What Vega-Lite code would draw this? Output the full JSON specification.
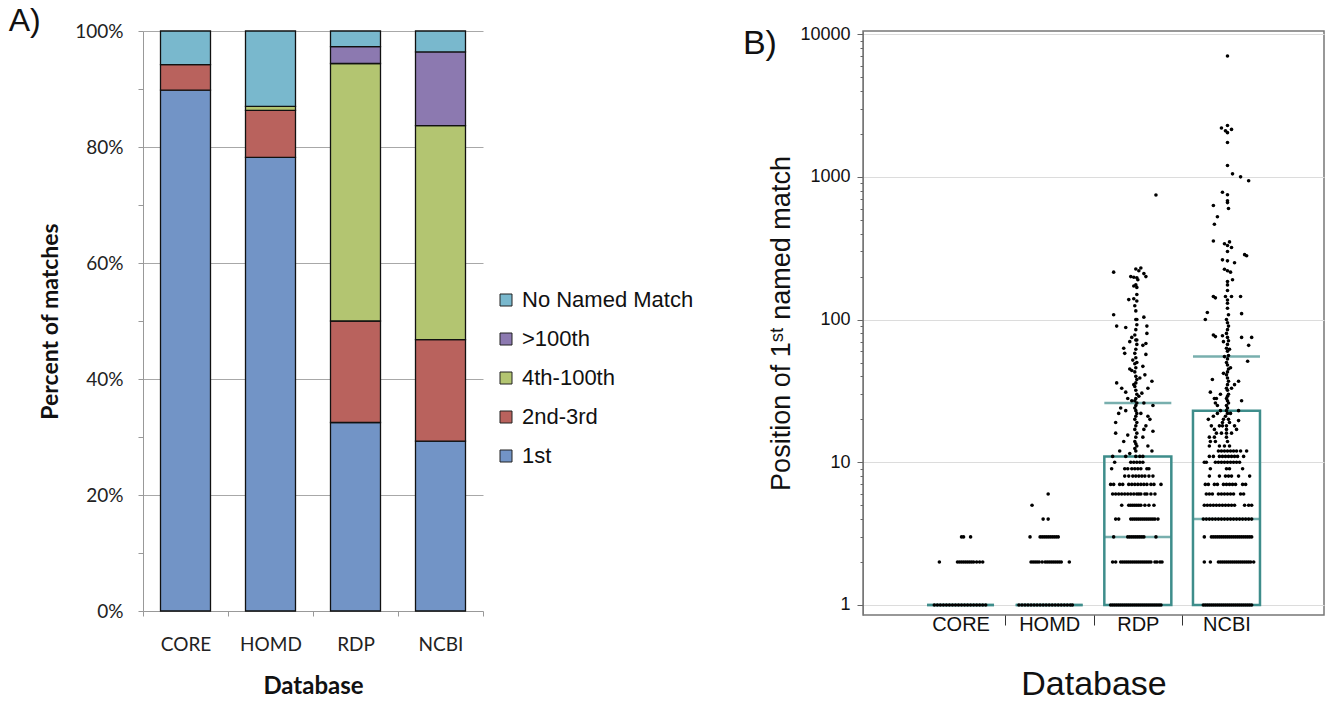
{
  "$schema": "https://vega.github.io/schema/vega-lite/v6.json",
  "background": "white",
  "padding": {"left": 8, "top": 5, "right": 2, "bottom": 2},
  "spacing": 258,
  "config": {"font": "Liberation Sans"},
  "datasets": {
    "bars": [
      {"db": "CORE", "cat": "1st", "rank": 1, "pct": 89.8},
      {"db": "CORE", "cat": "2nd-3rd", "rank": 2, "pct": 4.4},
      {"db": "CORE", "cat": "No Named Match", "rank": 5, "pct": 5.8},
      {"db": "HOMD", "cat": "1st", "rank": 1, "pct": 78.2},
      {"db": "HOMD", "cat": "2nd-3rd", "rank": 2, "pct": 8.1},
      {"db": "HOMD", "cat": "4th-100th", "rank": 3, "pct": 0.7},
      {"db": "HOMD", "cat": "No Named Match", "rank": 5, "pct": 13.0},
      {"db": "RDP", "cat": "1st", "rank": 1, "pct": 32.5},
      {"db": "RDP", "cat": "2nd-3rd", "rank": 2, "pct": 17.5},
      {"db": "RDP", "cat": "4th-100th", "rank": 3, "pct": 44.4},
      {"db": "RDP", "cat": ">100th", "rank": 4, "pct": 2.9},
      {"db": "RDP", "cat": "No Named Match", "rank": 5, "pct": 2.7},
      {"db": "NCBI", "cat": "1st", "rank": 1, "pct": 29.3},
      {"db": "NCBI", "cat": "2nd-3rd", "rank": 2, "pct": 17.5},
      {"db": "NCBI", "cat": "4th-100th", "rank": 3, "pct": 36.9},
      {"db": "NCBI", "cat": ">100th", "rank": 4, "pct": 12.7},
      {"db": "NCBI", "cat": "No Named Match", "rank": 5, "pct": 3.6}
    ],
    "boxes": [
      {"db": "CORE", "q1": 1, "q3": 1, "med": 1},
      {"db": "HOMD", "q1": 1, "q3": 1, "med": 1},
      {"db": "RDP", "q1": 1, "q3": 11, "med": 3, "mean": 26},
      {"db": "NCBI", "q1": 1, "q3": 23, "med": 4, "mean": 55}
    ],
    "pts": [
      {"db":"CORE","pos":1,"jit":-26},{"db":"CORE","pos":1,"jit":-23},{"db":"CORE","pos":1,"jit":-20},{"db":"CORE","pos":1,"jit":-17},{"db":"CORE","pos":1,"jit":-14},{"db":"CORE","pos":1,"jit":-11},{"db":"CORE","pos":1,"jit":-8},{"db":"CORE","pos":1,"jit":-5},{"db":"CORE","pos":1,"jit":-2},{"db":"CORE","pos":1,"jit":1},{"db":"CORE","pos":1,"jit":4},{"db":"CORE","pos":1,"jit":7},{"db":"CORE","pos":1,"jit":10},{"db":"CORE","pos":1,"jit":13},{"db":"CORE","pos":1,"jit":16},{"db":"CORE","pos":1,"jit":19},{"db":"CORE","pos":1,"jit":22},{"db":"CORE","pos":1,"jit":25},
      {"db":"CORE","pos":2,"jit":-21},{"db":"CORE","pos":2,"jit":-3},{"db":"CORE","pos":2,"jit":-1},{"db":"CORE","pos":2,"jit":1},{"db":"CORE","pos":2,"jit":3},{"db":"CORE","pos":2,"jit":5},{"db":"CORE","pos":2,"jit":7},{"db":"CORE","pos":2,"jit":9},{"db":"CORE","pos":2,"jit":11},{"db":"CORE","pos":2,"jit":13},{"db":"CORE","pos":2,"jit":16},{"db":"CORE","pos":2,"jit":19},{"db":"CORE","pos":2,"jit":22},
      {"db":"CORE","pos":3,"jit":1},{"db":"CORE","pos":3,"jit":3},{"db":"CORE","pos":3,"jit":10},
      {"db":"HOMD","pos":1,"jit":-30},{"db":"HOMD","pos":1,"jit":-27},{"db":"HOMD","pos":1,"jit":-24},{"db":"HOMD","pos":1,"jit":-21},{"db":"HOMD","pos":1,"jit":-18},{"db":"HOMD","pos":1,"jit":-15},{"db":"HOMD","pos":1,"jit":-12},{"db":"HOMD","pos":1,"jit":-9},{"db":"HOMD","pos":1,"jit":-6},{"db":"HOMD","pos":1,"jit":-3},{"db":"HOMD","pos":1,"jit":0},{"db":"HOMD","pos":1,"jit":3},{"db":"HOMD","pos":1,"jit":6},{"db":"HOMD","pos":1,"jit":9},{"db":"HOMD","pos":1,"jit":12},{"db":"HOMD","pos":1,"jit":15},{"db":"HOMD","pos":1,"jit":18},{"db":"HOMD","pos":1,"jit":21},{"db":"HOMD","pos":1,"jit":23},
      {"db":"HOMD","pos":2,"jit":-18},{"db":"HOMD","pos":2,"jit":-16},{"db":"HOMD","pos":2,"jit":-14},{"db":"HOMD","pos":2,"jit":-12},{"db":"HOMD","pos":2,"jit":-10},{"db":"HOMD","pos":2,"jit":-7},{"db":"HOMD","pos":2,"jit":-4},{"db":"HOMD","pos":2,"jit":-2},{"db":"HOMD","pos":2,"jit":0},{"db":"HOMD","pos":2,"jit":2},{"db":"HOMD","pos":2,"jit":4},{"db":"HOMD","pos":2,"jit":6},{"db":"HOMD","pos":2,"jit":8},{"db":"HOMD","pos":2,"jit":10},{"db":"HOMD","pos":2,"jit":12},{"db":"HOMD","pos":2,"jit":20},
      {"db":"HOMD","pos":3,"jit":-19},{"db":"HOMD","pos":3,"jit":-9},{"db":"HOMD","pos":3,"jit":-7},{"db":"HOMD","pos":3,"jit":-5},{"db":"HOMD","pos":3,"jit":-3},{"db":"HOMD","pos":3,"jit":-1},{"db":"HOMD","pos":3,"jit":1},{"db":"HOMD","pos":3,"jit":3},{"db":"HOMD","pos":3,"jit":5},{"db":"HOMD","pos":3,"jit":7},{"db":"HOMD","pos":3,"jit":9},
      {"db":"HOMD","pos":4,"jit":-6},{"db":"HOMD","pos":4,"jit":-1},{"db":"HOMD","pos":5,"jit":-17},{"db":"HOMD","pos":6,"jit":-1},
      {"db":"RDP","pos":1,"jit":-27},{"db":"RDP","pos":1,"jit":-25},{"db":"RDP","pos":1,"jit":-23},{"db":"RDP","pos":1,"jit":-21},{"db":"RDP","pos":1,"jit":-19},{"db":"RDP","pos":1,"jit":-17},{"db":"RDP","pos":1,"jit":-15},{"db":"RDP","pos":1,"jit":-13},{"db":"RDP","pos":1,"jit":-11},{"db":"RDP","pos":1,"jit":-9},{"db":"RDP","pos":1,"jit":-7},{"db":"RDP","pos":1,"jit":-5},{"db":"RDP","pos":1,"jit":-3},{"db":"RDP","pos":1,"jit":-1},{"db":"RDP","pos":1,"jit":1},{"db":"RDP","pos":1,"jit":3},{"db":"RDP","pos":1,"jit":5},{"db":"RDP","pos":1,"jit":7},{"db":"RDP","pos":1,"jit":9},{"db":"RDP","pos":1,"jit":11},{"db":"RDP","pos":1,"jit":13},{"db":"RDP","pos":1,"jit":15},{"db":"RDP","pos":1,"jit":17},{"db":"RDP","pos":1,"jit":19},{"db":"RDP","pos":1,"jit":21},{"db":"RDP","pos":1,"jit":23},
      {"db":"RDP","pos":2,"jit":-25},{"db":"RDP","pos":2,"jit":-22},{"db":"RDP","pos":2,"jit":-17},{"db":"RDP","pos":2,"jit":-15},{"db":"RDP","pos":2,"jit":-13},{"db":"RDP","pos":2,"jit":-11},{"db":"RDP","pos":2,"jit":-9},{"db":"RDP","pos":2,"jit":-7},{"db":"RDP","pos":2,"jit":-5},{"db":"RDP","pos":2,"jit":-3},{"db":"RDP","pos":2,"jit":-1},{"db":"RDP","pos":2,"jit":1},{"db":"RDP","pos":2,"jit":3},{"db":"RDP","pos":2,"jit":5},{"db":"RDP","pos":2,"jit":7},{"db":"RDP","pos":2,"jit":9},{"db":"RDP","pos":2,"jit":11},{"db":"RDP","pos":2,"jit":13},{"db":"RDP","pos":2,"jit":17},{"db":"RDP","pos":2,"jit":19},{"db":"RDP","pos":2,"jit":22},{"db":"RDP","pos":2,"jit":24},
      {"db":"RDP","pos":3,"jit":-24},{"db":"RDP","pos":3,"jit":-10},{"db":"RDP","pos":3,"jit":-8},{"db":"RDP","pos":3,"jit":-6},{"db":"RDP","pos":3,"jit":-4},{"db":"RDP","pos":3,"jit":-2},{"db":"RDP","pos":3,"jit":0},{"db":"RDP","pos":3,"jit":2},{"db":"RDP","pos":3,"jit":4},{"db":"RDP","pos":3,"jit":6},{"db":"RDP","pos":3,"jit":18},
      {"db":"RDP","pos":4,"jit":-22},{"db":"RDP","pos":4,"jit":-19},{"db":"RDP","pos":4,"jit":-7},{"db":"RDP","pos":4,"jit":-5},{"db":"RDP","pos":4,"jit":-3},{"db":"RDP","pos":4,"jit":-1},{"db":"RDP","pos":4,"jit":1},{"db":"RDP","pos":4,"jit":3},{"db":"RDP","pos":4,"jit":5},{"db":"RDP","pos":4,"jit":7},{"db":"RDP","pos":4,"jit":9},{"db":"RDP","pos":4,"jit":11},{"db":"RDP","pos":4,"jit":13},{"db":"RDP","pos":4,"jit":15},{"db":"RDP","pos":4,"jit":17},{"db":"RDP","pos":4,"jit":20},
      {"db":"RDP","pos":5,"jit":-16},{"db":"RDP","pos":5,"jit":-9},{"db":"RDP","pos":5,"jit":-7},{"db":"RDP","pos":5,"jit":-5},{"db":"RDP","pos":5,"jit":-3},{"db":"RDP","pos":5,"jit":-1},{"db":"RDP","pos":5,"jit":1},{"db":"RDP","pos":5,"jit":3},{"db":"RDP","pos":5,"jit":7},{"db":"RDP","pos":5,"jit":11},{"db":"RDP","pos":5,"jit":16},
      {"db":"RDP","pos":6,"jit":-25},{"db":"RDP","pos":6,"jit":-22},{"db":"RDP","pos":6,"jit":-19},{"db":"RDP","pos":6,"jit":-16},{"db":"RDP","pos":6,"jit":-13},{"db":"RDP","pos":6,"jit":-10},{"db":"RDP","pos":6,"jit":-7},{"db":"RDP","pos":6,"jit":-4},{"db":"RDP","pos":6,"jit":-1},{"db":"RDP","pos":6,"jit":1},{"db":"RDP","pos":6,"jit":3},{"db":"RDP","pos":6,"jit":7},{"db":"RDP","pos":6,"jit":9},{"db":"RDP","pos":6,"jit":13},{"db":"RDP","pos":6,"jit":17},
      {"db":"RDP","pos":7,"jit":-27},{"db":"RDP","pos":7,"jit":-24},{"db":"RDP","pos":7,"jit":-18},{"db":"RDP","pos":7,"jit":-15},{"db":"RDP","pos":7,"jit":-9},{"db":"RDP","pos":7,"jit":-6},{"db":"RDP","pos":7,"jit":-3},{"db":"RDP","pos":7,"jit":0},{"db":"RDP","pos":7,"jit":3},{"db":"RDP","pos":7,"jit":6},{"db":"RDP","pos":7,"jit":9},{"db":"RDP","pos":7,"jit":13},{"db":"RDP","pos":7,"jit":16},{"db":"RDP","pos":7,"jit":23},
      {"db":"RDP","pos":8,"jit":-13},{"db":"RDP","pos":8,"jit":-9},{"db":"RDP","pos":8,"jit":-5},{"db":"RDP","pos":8,"jit":-2},{"db":"RDP","pos":8,"jit":1},{"db":"RDP","pos":8,"jit":4},{"db":"RDP","pos":8,"jit":7},{"db":"RDP","pos":8,"jit":11},{"db":"RDP","pos":8,"jit":15},
      {"db":"RDP","pos":9,"jit":-26},{"db":"RDP","pos":9,"jit":-13},{"db":"RDP","pos":9,"jit":-10},{"db":"RDP","pos":9,"jit":-6},{"db":"RDP","pos":9,"jit":-3},{"db":"RDP","pos":9,"jit":0},{"db":"RDP","pos":9,"jit":3},{"db":"RDP","pos":9,"jit":9},{"db":"RDP","pos":9,"jit":11},
      {"db":"RDP","pos":10,"jit":-23},{"db":"RDP","pos":10,"jit":-7},{"db":"RDP","pos":10,"jit":-4},{"db":"RDP","pos":10,"jit":-1},{"db":"RDP","pos":10,"jit":2},{"db":"RDP","pos":10,"jit":5},
      {"db":"RDP","pos":11,"jit":-25},{"db":"RDP","pos":11,"jit":-12},{"db":"RDP","pos":11,"jit":-2},{"db":"RDP","pos":11,"jit":2},{"db":"RDP","pos":11,"jit":5},
      {"db":"RDP","pos":12,"jit":-2},{"db":"RDP","pos":12.5,"jit":-3},{"db":"RDP","pos":13,"jit":-1},{"db":"RDP","pos":13.5,"jit":-2},{"db":"RDP","pos":14,"jit":-3},{"db":"RDP","pos":15,"jit":-2},{"db":"RDP","pos":16,"jit":-1},{"db":"RDP","pos":17,"jit":-3},{"db":"RDP","pos":18,"jit":-2},{"db":"RDP","pos":19,"jit":-1},{"db":"RDP","pos":20,"jit":-3},{"db":"RDP","pos":21,"jit":-2},{"db":"RDP","pos":22,"jit":-1},{"db":"RDP","pos":23,"jit":-2},{"db":"RDP","pos":24,"jit":-3},{"db":"RDP","pos":25,"jit":-2},{"db":"RDP","pos":26,"jit":-1},{"db":"RDP","pos":27,"jit":-3},{"db":"RDP","pos":28,"jit":-2},{"db":"RDP","pos":30,"jit":-1},{"db":"RDP","pos":32,"jit":-2},{"db":"RDP","pos":34,"jit":-3},{"db":"RDP","pos":36,"jit":-2},{"db":"RDP","pos":38,"jit":-1},{"db":"RDP","pos":40,"jit":-2},{"db":"RDP","pos":43,"jit":-3},{"db":"RDP","pos":46,"jit":-2},{"db":"RDP","pos":50,"jit":-1},{"db":"RDP","pos":54,"jit":-2},{"db":"RDP","pos":58,"jit":-3},{"db":"RDP","pos":62,"jit":-2},{"db":"RDP","pos":67,"jit":-1},{"db":"RDP","pos":72,"jit":-2},{"db":"RDP","pos":78,"jit":-3},{"db":"RDP","pos":85,"jit":-2},{"db":"RDP","pos":92,"jit":-1},{"db":"RDP","pos":100,"jit":-2},{"db":"RDP","pos":115,"jit":-2},{"db":"RDP","pos":125,"jit":-3},{"db":"RDP","pos":150,"jit":-1},{"db":"RDP","pos":175,"jit":-2},
      {"db":"RDP","pos":63,"jit":-14},{"db":"RDP","pos":58,"jit":-13},{"db":"RDP","pos":36,"jit":-21},{"db":"RDP","pos":47,"jit":5},{"db":"RDP","pos":41,"jit":7},{"db":"RDP","pos":31,"jit":-12},{"db":"RDP","pos":22,"jit":-19},{"db":"RDP","pos":19,"jit":-22},{"db":"RDP","pos":16,"jit":-22},{"db":"RDP","pos":18,"jit":8},{"db":"RDP","pos":17,"jit":6},{"db":"RDP","pos":15,"jit":5},{"db":"RDP","pos":15.5,"jit":-10},{"db":"RDP","pos":30.5,"jit":4},{"db":"RDP","pos":26,"jit":6},{"db":"RDP","pos":22,"jit":3},{"db":"RDP","pos":28,"jit":-10},{"db":"RDP","pos":24,"jit":-17},{"db":"RDP","pos":20,"jit":12},{"db":"RDP","pos":33,"jit":10},{"db":"RDP","pos":25,"jit":15},{"db":"RDP","pos":27,"jit":-6},{"db":"RDP","pos":45,"jit":-8},{"db":"RDP","pos":52,"jit":-5},{"db":"RDP","pos":70,"jit":-8},{"db":"RDP","pos":88,"jit":-12},{"db":"RDP","pos":80,"jit":9},{"db":"RDP","pos":75,"jit":-6},{"db":"RDP","pos":66,"jit":5},{"db":"RDP","pos":57,"jit":8},{"db":"RDP","pos":49,"jit":-3},{"db":"RDP","pos":44,"jit":-6},{"db":"RDP","pos":39,"jit":2},{"db":"RDP","pos":35,"jit":-4},{"db":"RDP","pos":29,"jit":1},{"db":"RDP","pos":90,"jit":-21},{"db":"RDP","pos":90,"jit":9},{"db":"RDP","pos":108,"jit":-24},{"db":"RDP","pos":104,"jit":6},{"db":"RDP","pos":100,"jit":-1},{"db":"RDP","pos":72,"jit":-1},{"db":"RDP","pos":68,"jit":8},{"db":"RDP","pos":138,"jit":-9},{"db":"RDP","pos":140,"jit":-4},{"db":"RDP","pos":135,"jit":-1},{"db":"RDP","pos":172,"jit":-4},{"db":"RDP","pos":168,"jit":-1},{"db":"RDP","pos":215,"jit":-24},{"db":"RDP","pos":200,"jit":-7},{"db":"RDP","pos":198,"jit":-4},{"db":"RDP","pos":196,"jit":-1},{"db":"RDP","pos":200,"jit":8},{"db":"RDP","pos":226,"jit":-2},{"db":"RDP","pos":220,"jit":1},{"db":"RDP","pos":210,"jit":6},{"db":"RDP","pos":230,"jit":3},{"db":"RDP","pos":190,"jit":0},{"db":"RDP","pos":747,"jit":18},{"db":"RDP","pos":13,"jit":10},{"db":"RDP","pos":14,"jit":-14},{"db":"RDP","pos":12,"jit":-18},{"db":"RDP","pos":12,"jit":14},{"db":"RDP","pos":21,"jit":10},{"db":"RDP","pos":23,"jit":-12},{"db":"RDP","pos":37,"jit":14},{"db":"RDP","pos":33,"jit":-16},{"db":"RDP","pos":11.5,"jit":-8},{"db":"RDP","pos":16.5,"jit":15},
      {"db":"NCBI","pos":1,"jit":-23},{"db":"NCBI","pos":1,"jit":-21},{"db":"NCBI","pos":1,"jit":-19},{"db":"NCBI","pos":1,"jit":-17},{"db":"NCBI","pos":1,"jit":-15},{"db":"NCBI","pos":1,"jit":-13},{"db":"NCBI","pos":1,"jit":-11},{"db":"NCBI","pos":1,"jit":-9},{"db":"NCBI","pos":1,"jit":-7},{"db":"NCBI","pos":1,"jit":-5},{"db":"NCBI","pos":1,"jit":-3},{"db":"NCBI","pos":1,"jit":-1},{"db":"NCBI","pos":1,"jit":1},{"db":"NCBI","pos":1,"jit":3},{"db":"NCBI","pos":1,"jit":5},{"db":"NCBI","pos":1,"jit":7},{"db":"NCBI","pos":1,"jit":9},{"db":"NCBI","pos":1,"jit":11},{"db":"NCBI","pos":1,"jit":13},{"db":"NCBI","pos":1,"jit":15},{"db":"NCBI","pos":1,"jit":17},{"db":"NCBI","pos":1,"jit":19},{"db":"NCBI","pos":1,"jit":21},{"db":"NCBI","pos":1,"jit":23},{"db":"NCBI","pos":1,"jit":25},
      {"db":"NCBI","pos":2,"jit":-22},{"db":"NCBI","pos":2,"jit":-16},{"db":"NCBI","pos":2,"jit":-8},{"db":"NCBI","pos":2,"jit":-6},{"db":"NCBI","pos":2,"jit":-4},{"db":"NCBI","pos":2,"jit":-2},{"db":"NCBI","pos":2,"jit":0},{"db":"NCBI","pos":2,"jit":2},{"db":"NCBI","pos":2,"jit":4},{"db":"NCBI","pos":2,"jit":6},{"db":"NCBI","pos":2,"jit":8},{"db":"NCBI","pos":2,"jit":10},{"db":"NCBI","pos":2,"jit":12},{"db":"NCBI","pos":2,"jit":14},{"db":"NCBI","pos":2,"jit":16},{"db":"NCBI","pos":2,"jit":18},{"db":"NCBI","pos":2,"jit":20},{"db":"NCBI","pos":2,"jit":22},{"db":"NCBI","pos":2,"jit":24},{"db":"NCBI","pos":2,"jit":27},
      {"db":"NCBI","pos":3,"jit":-22},{"db":"NCBI","pos":3,"jit":-15},{"db":"NCBI","pos":3,"jit":-13},{"db":"NCBI","pos":3,"jit":-11},{"db":"NCBI","pos":3,"jit":-9},{"db":"NCBI","pos":3,"jit":-7},{"db":"NCBI","pos":3,"jit":-5},{"db":"NCBI","pos":3,"jit":-3},{"db":"NCBI","pos":3,"jit":-1},{"db":"NCBI","pos":3,"jit":1},{"db":"NCBI","pos":3,"jit":3},{"db":"NCBI","pos":3,"jit":5},{"db":"NCBI","pos":3,"jit":7},{"db":"NCBI","pos":3,"jit":9},{"db":"NCBI","pos":3,"jit":11},{"db":"NCBI","pos":3,"jit":13},{"db":"NCBI","pos":3,"jit":15},{"db":"NCBI","pos":3,"jit":17},{"db":"NCBI","pos":3,"jit":19},{"db":"NCBI","pos":3,"jit":21},{"db":"NCBI","pos":3,"jit":23},{"db":"NCBI","pos":3,"jit":25},
      {"db":"NCBI","pos":4,"jit":-23},{"db":"NCBI","pos":4,"jit":-20},{"db":"NCBI","pos":4,"jit":-17},{"db":"NCBI","pos":4,"jit":-14},{"db":"NCBI","pos":4,"jit":-11},{"db":"NCBI","pos":4,"jit":-8},{"db":"NCBI","pos":4,"jit":-5},{"db":"NCBI","pos":4,"jit":-2},{"db":"NCBI","pos":4,"jit":1},{"db":"NCBI","pos":4,"jit":4},{"db":"NCBI","pos":4,"jit":7},{"db":"NCBI","pos":4,"jit":10},{"db":"NCBI","pos":4,"jit":13},{"db":"NCBI","pos":4,"jit":16},{"db":"NCBI","pos":4,"jit":19},{"db":"NCBI","pos":4,"jit":22},{"db":"NCBI","pos":4,"jit":25},
      {"db":"NCBI","pos":5,"jit":-22},{"db":"NCBI","pos":5,"jit":-19},{"db":"NCBI","pos":5,"jit":-16},{"db":"NCBI","pos":5,"jit":-13},{"db":"NCBI","pos":5,"jit":-10},{"db":"NCBI","pos":5,"jit":-7},{"db":"NCBI","pos":5,"jit":-4},{"db":"NCBI","pos":5,"jit":-1},{"db":"NCBI","pos":5,"jit":2},{"db":"NCBI","pos":5,"jit":5},{"db":"NCBI","pos":5,"jit":8},{"db":"NCBI","pos":5,"jit":18},{"db":"NCBI","pos":5,"jit":22},{"db":"NCBI","pos":5,"jit":25},
      {"db":"NCBI","pos":6,"jit":-20},{"db":"NCBI","pos":6,"jit":-17},{"db":"NCBI","pos":6,"jit":-14},{"db":"NCBI","pos":6,"jit":-8},{"db":"NCBI","pos":6,"jit":-5},{"db":"NCBI","pos":6,"jit":-2},{"db":"NCBI","pos":6,"jit":1},{"db":"NCBI","pos":6,"jit":4},{"db":"NCBI","pos":6,"jit":7},{"db":"NCBI","pos":6,"jit":14},{"db":"NCBI","pos":6,"jit":17},
      {"db":"NCBI","pos":7,"jit":-21},{"db":"NCBI","pos":7,"jit":-18},{"db":"NCBI","pos":7,"jit":-12},{"db":"NCBI","pos":7,"jit":-9},{"db":"NCBI","pos":7,"jit":-3},{"db":"NCBI","pos":7,"jit":0},{"db":"NCBI","pos":7,"jit":3},{"db":"NCBI","pos":7,"jit":6},{"db":"NCBI","pos":7,"jit":9},{"db":"NCBI","pos":7,"jit":16},{"db":"NCBI","pos":7,"jit":19},
      {"db":"NCBI","pos":8,"jit":-17},{"db":"NCBI","pos":8,"jit":-7},{"db":"NCBI","pos":8,"jit":-1},{"db":"NCBI","pos":8,"jit":2},{"db":"NCBI","pos":8,"jit":5},{"db":"NCBI","pos":8,"jit":12},{"db":"NCBI","pos":8,"jit":23},
      {"db":"NCBI","pos":9,"jit":-16},{"db":"NCBI","pos":9,"jit":0},{"db":"NCBI","pos":9,"jit":3},{"db":"NCBI","pos":9,"jit":16},
      {"db":"NCBI","pos":10,"jit":-22},{"db":"NCBI","pos":10,"jit":-20},{"db":"NCBI","pos":10,"jit":-11},{"db":"NCBI","pos":10,"jit":-8},{"db":"NCBI","pos":10,"jit":-5},{"db":"NCBI","pos":10,"jit":-2},{"db":"NCBI","pos":10,"jit":1},{"db":"NCBI","pos":10,"jit":4},{"db":"NCBI","pos":10,"jit":7},{"db":"NCBI","pos":10,"jit":10},{"db":"NCBI","pos":10,"jit":13},
      {"db":"NCBI","pos":11,"jit":-17},{"db":"NCBI","pos":11,"jit":-13},{"db":"NCBI","pos":11,"jit":-7},{"db":"NCBI","pos":11,"jit":-4},{"db":"NCBI","pos":11,"jit":-1},{"db":"NCBI","pos":11,"jit":2},{"db":"NCBI","pos":11,"jit":5},{"db":"NCBI","pos":11,"jit":8},{"db":"NCBI","pos":11,"jit":11},{"db":"NCBI","pos":11,"jit":17},
      {"db":"NCBI","pos":12,"jit":-8},{"db":"NCBI","pos":12,"jit":-5},{"db":"NCBI","pos":12,"jit":-2},{"db":"NCBI","pos":12,"jit":1},{"db":"NCBI","pos":12,"jit":4},{"db":"NCBI","pos":12,"jit":7},{"db":"NCBI","pos":12,"jit":10},{"db":"NCBI","pos":12,"jit":14},{"db":"NCBI","pos":12,"jit":20},{"db":"NCBI","pos":13,"jit":-17},{"db":"NCBI","pos":13,"jit":-7},{"db":"NCBI","pos":13,"jit":-2},{"db":"NCBI","pos":13,"jit":3},{"db":"NCBI","pos":14,"jit":-16},{"db":"NCBI","pos":14,"jit":-11},{"db":"NCBI","pos":14,"jit":1},{"db":"NCBI","pos":15,"jit":-17},{"db":"NCBI","pos":15,"jit":-12},{"db":"NCBI","pos":15,"jit":0},{"db":"NCBI","pos":16,"jit":-10},{"db":"NCBI","pos":16,"jit":-5},{"db":"NCBI","pos":16,"jit":0},{"db":"NCBI","pos":16,"jit":5},{"db":"NCBI","pos":17,"jit":-12},{"db":"NCBI","pos":17,"jit":0},{"db":"NCBI","pos":17,"jit":10},{"db":"NCBI","pos":18,"jit":-15},{"db":"NCBI","pos":18,"jit":-7},{"db":"NCBI","pos":18,"jit":-4},{"db":"NCBI","pos":18,"jit":0},{"db":"NCBI","pos":18,"jit":8},{"db":"NCBI","pos":19,"jit":-4},{"db":"NCBI","pos":19,"jit":3},{"db":"NCBI","pos":19.6,"jit":12},{"db":"NCBI","pos":20,"jit":-18},{"db":"NCBI","pos":20,"jit":-3},{"db":"NCBI","pos":20,"jit":2},{"db":"NCBI","pos":21,"jit":-13},{"db":"NCBI","pos":21,"jit":-1},{"db":"NCBI","pos":22,"jit":-9},{"db":"NCBI","pos":22,"jit":1},{"db":"NCBI","pos":22,"jit":4},{"db":"NCBI","pos":23,"jit":-6},{"db":"NCBI","pos":23,"jit":0},{"db":"NCBI","pos":23,"jit":12},
      {"db":"NCBI","pos":24,"jit":1},{"db":"NCBI","pos":25,"jit":0},{"db":"NCBI","pos":26,"jit":2},{"db":"NCBI","pos":27,"jit":1},{"db":"NCBI","pos":28,"jit":0},{"db":"NCBI","pos":29,"jit":1},{"db":"NCBI","pos":30,"jit":2},{"db":"NCBI","pos":32,"jit":1},{"db":"NCBI","pos":33,"jit":0},{"db":"NCBI","pos":35,"jit":1},{"db":"NCBI","pos":37,"jit":2},{"db":"NCBI","pos":39,"jit":1},{"db":"NCBI","pos":41,"jit":0},{"db":"NCBI","pos":43,"jit":1},{"db":"NCBI","pos":45,"jit":2},{"db":"NCBI","pos":48,"jit":1},{"db":"NCBI","pos":50,"jit":0},{"db":"NCBI","pos":53,"jit":1},{"db":"NCBI","pos":56,"jit":2},{"db":"NCBI","pos":60,"jit":1},{"db":"NCBI","pos":63,"jit":0},{"db":"NCBI","pos":67,"jit":1},{"db":"NCBI","pos":71,"jit":2},{"db":"NCBI","pos":75,"jit":1},{"db":"NCBI","pos":80,"jit":0},{"db":"NCBI","pos":85,"jit":1},{"db":"NCBI","pos":90,"jit":2},{"db":"NCBI","pos":95,"jit":1},{"db":"NCBI","pos":100,"jit":0},
      {"db":"NCBI","pos":25,"jit":-9},{"db":"NCBI","pos":28,"jit":-10},{"db":"NCBI","pos":27,"jit":15},{"db":"NCBI","pos":37,"jit":12},{"db":"NCBI","pos":51,"jit":21},{"db":"NCBI","pos":26,"jit":-11},{"db":"NCBI","pos":30,"jit":-6},{"db":"NCBI","pos":33,"jit":5},{"db":"NCBI","pos":42,"jit":-3},{"db":"NCBI","pos":46,"jit":4},{"db":"NCBI","pos":55,"jit":-2},{"db":"NCBI","pos":62,"jit":3},{"db":"NCBI","pos":70,"jit":-3},{"db":"NCBI","pos":77,"jit":-4},{"db":"NCBI","pos":76,"jit":-11},{"db":"NCBI","pos":75,"jit":15},{"db":"NCBI","pos":75,"jit":25},{"db":"NCBI","pos":66,"jit":22},{"db":"NCBI","pos":78,"jit":-13},{"db":"NCBI","pos":112,"jit":-19},{"db":"NCBI","pos":110,"jit":15},{"db":"NCBI","pos":100,"jit":-21},{"db":"NCBI","pos":108,"jit":2},{"db":"NCBI","pos":120,"jit":1},{"db":"NCBI","pos":130,"jit":1},{"db":"NCBI","pos":137,"jit":1},{"db":"NCBI","pos":145,"jit":-13},{"db":"NCBI","pos":142,"jit":-11},{"db":"NCBI","pos":145,"jit":-1},{"db":"NCBI","pos":145,"jit":5},{"db":"NCBI","pos":145,"jit":14},{"db":"NCBI","pos":160,"jit":1},{"db":"NCBI","pos":175,"jit":1},{"db":"NCBI","pos":190,"jit":6},{"db":"NCBI","pos":185,"jit":1},{"db":"NCBI","pos":220,"jit":1},{"db":"NCBI","pos":225,"jit":-2},{"db":"NCBI","pos":215,"jit":4},{"db":"NCBI","pos":250,"jit":8},{"db":"NCBI","pos":258,"jit":1},{"db":"NCBI","pos":262,"jit":-4},{"db":"NCBI","pos":285,"jit":18},{"db":"NCBI","pos":280,"jit":20},{"db":"NCBI","pos":300,"jit":1},{"db":"NCBI","pos":320,"jit":5},{"db":"NCBI","pos":330,"jit":1},{"db":"NCBI","pos":340,"jit":-2},{"db":"NCBI","pos":350,"jit":3},{"db":"NCBI","pos":355,"jit":-13},{"db":"NCBI","pos":465,"jit":-12},{"db":"NCBI","pos":525,"jit":-9},{"db":"NCBI","pos":600,"jit":2},{"db":"NCBI","pos":630,"jit":-13},{"db":"NCBI","pos":660,"jit":1},{"db":"NCBI","pos":680,"jit":1},{"db":"NCBI","pos":750,"jit":1},{"db":"NCBI","pos":780,"jit":-4},{"db":"NCBI","pos":940,"jit":22},{"db":"NCBI","pos":1000,"jit":14},{"db":"NCBI","pos":1050,"jit":6},{"db":"NCBI","pos":1200,"jit":1},{"db":"NCBI","pos":1740,"jit":1},{"db":"NCBI","pos":2040,"jit":1},{"db":"NCBI","pos":2100,"jit":-1},{"db":"NCBI","pos":2150,"jit":5},{"db":"NCBI","pos":2200,"jit":-5},{"db":"NCBI","pos":2290,"jit":1},{"db":"NCBI","pos":7030,"jit":1},{"db":"NCBI","pos":38,"jit":-14},{"db":"NCBI","pos":28,"jit":-12},{"db":"NCBI","pos":31,"jit":-16},{"db":"NCBI","pos":35,"jit":8}
    ]
  },
  "hconcat": [
    {
      "width": 340,
      "height": 580,
      "title": {"text": "A)", "anchor": "start", "frame": "bounds", "font": "Liberation Sans", "fontSize": 32, "fontWeight": "normal", "color": "#111", "baseline": "alphabetic", "offset": -41, "dx": -31},
      "view": {"stroke": null},
      "data": {"name": "bars"},
      "mark": {"type": "bar", "stroke": "#111", "strokeWidth": 1.3, "width": 50},
      "encoding": {
        "x": {
          "field": "db", "type": "nominal",
          "scale": {"domain": ["CORE", "HOMD", "RDP", "NCBI"], "paddingInner": 0, "paddingOuter": 0},
          "axis": {"title": "Database", "labelAngle": 0, "tickBand": "extent", "labelFont": "Lato", "labelFontSize": 19, "labelColor": "#222", "labelPadding": 19, "tickSize": 5, "tickColor": "#999", "domainColor": "#999", "titleFont": "Lato", "titleFontSize": 24, "titleFontWeight": "bold", "titleColor": "#111", "titlePadding": 20}
        },
        "y": {
          "field": "pct", "type": "quantitative", "stack": "zero",
          "scale": {"domain": [0, 100], "nice": false},
          "axis": {"title": "Percent of matches", "values": [0, 10, 20, 30, 40, 50, 60, 70, 80, 90, 100],
            "labelExpr": "datum.value % 20 == 0 ? datum.value + '%' : ''",
            "labelFont": "Lato", "labelFontSize": 19, "labelColor": "#222", "labelPadding": 15, "tickSize": 5, "tickColor": "#999", "domainColor": "#999",
            "gridColor": {"condition": {"test": "datum.value % 20 == 0 && datum.value > 0", "value": "#a8a8a8"}, "value": "transparent"},
            "titleFont": "Lato", "titleFontSize": 23, "titleFontWeight": "bold", "titleColor": "#111", "titlePadding": 12}
        },
        "color": {
          "field": "cat", "type": "nominal",
          "scale": {"domain": ["No Named Match", ">100th", "4th-100th", "2nd-3rd", "1st"], "range": ["#79B8CD", "#8C79B0", "#B3C571", "#B9625D", "#7294C6"]},
          "legend": {"title": null, "orient": "none", "legendX": 352, "legendY": 258, "symbolType": "square", "symbolSize": 144, "symbolStrokeColor": "#222", "symbolStrokeWidth": 1, "symbolOpacity": 1, "labelFont": "Liberation Sans", "labelFontSize": 22, "labelColor": "#111", "labelOffset": 5, "labelLimit": 400, "rowPadding": 17}
        },
        "order": {"field": "rank", "type": "quantitative"}
      }
    },
    {
      "width": 461,
      "height": 584,
      "title": {"text": "B)", "anchor": "start", "frame": "bounds", "font": "Liberation Sans", "fontSize": 34, "fontWeight": "normal", "color": "#111", "baseline": "alphabetic", "offset": -63, "dx": -25},
      "view": {"stroke": "#777", "strokeWidth": 1.5},
      "encoding": {
        "x": {
          "field": "db", "type": "nominal",
          "scale": {"domain": ["CORE", "HOMD", "RDP", "NCBI"], "paddingInner": 0, "paddingOuter": 0.6},
          "axis": {"title": "Database", "labelAngle": 0, "tickBand": "extent", "labelFont": "Liberation Sans", "labelFontSize": 20, "labelColor": "#111", "labelPadding": -11, "tickSize": 10, "tickColor": "#333",
            "tickOpacity": {"condition": {"test": "datum.value === 'NCBI' || !isValid(datum.value) || datum.index < 0 || datum.extra", "value": 0}, "value": 1},
            "domain": false,
            "titleFont": "Liberation Sans", "titleFontSize": 34, "titleFontWeight": "normal", "titleColor": "#111", "titlePadding": 33}
        }
      },
      "layer": [
        {
          "data": {"name": "boxes"},
          "mark": {"type": "bar", "fill": "transparent", "stroke": "#3E8D8B", "strokeWidth": 2.5, "width": 67},
          "encoding": {
            "y": {"field": "q1", "type": "quantitative",
              "scale": {"type": "log", "domain": [0.851, 10520], "nice": false},
              "axis": {"title": "Position of 1ˢᵗ named match",
                "values": [1,2,3,4,5,6,7,8,9,10,20,30,40,50,60,70,80,90,100,200,300,400,500,600,700,800,900,1000,2000,3000,4000,5000,6000,7000,8000,9000,10000],
                "format": "d",
                "labelExpr": "indexof([1,10,100,1000,10000], datum.value) >= 0 ? datum.label : ''",
                "gridColor": {"condition": {"test": "indexof([1,10,100,1000,10000], datum.value) >= 0", "value": "#dcdcdc"}, "value": "transparent"},
                "tickSize": {"condition": {"test": "indexof([1,10,100,1000,10000], datum.value) >= 0", "value": 6}, "value": 3},
                "tickColor": "#666", "domainColor": "#777",
                "labelFont": "Liberation Sans", "labelFontSize": 18, "labelColor": "#111", "labelPadding": 7,
                "titleFont": "Liberation Sans", "titleFontSize": 27, "titleFontWeight": "normal", "titleColor": "#111", "titlePadding": 4}
            },
            "y2": {"field": "q3"}
          }
        },
        {
          "data": {"name": "boxes"},
          "mark": {"type": "tick", "color": "#3E8D8B", "size": 67, "thickness": 2.5},
          "encoding": {"y": {"field": "med", "type": "quantitative"}}
        },
        {
          "data": {"name": "boxes"},
          "mark": {"type": "tick", "color": "#3E8D8B", "size": 67, "thickness": 2.5},
          "encoding": {"y": {"field": "mean", "type": "quantitative"}}
        },
        {
          "data": {"name": "pts"},
          "mark": {"type": "circle", "size": 13, "color": "#000", "opacity": 1},
          "encoding": {
            "xOffset": {"field": "jit", "type": "quantitative", "scale": {"domain": [-44, 44], "nice": false, "zero": false}},
            "y": {"field": "pos", "type": "quantitative"}
          }
        }
      ]
    }
  ]
}
